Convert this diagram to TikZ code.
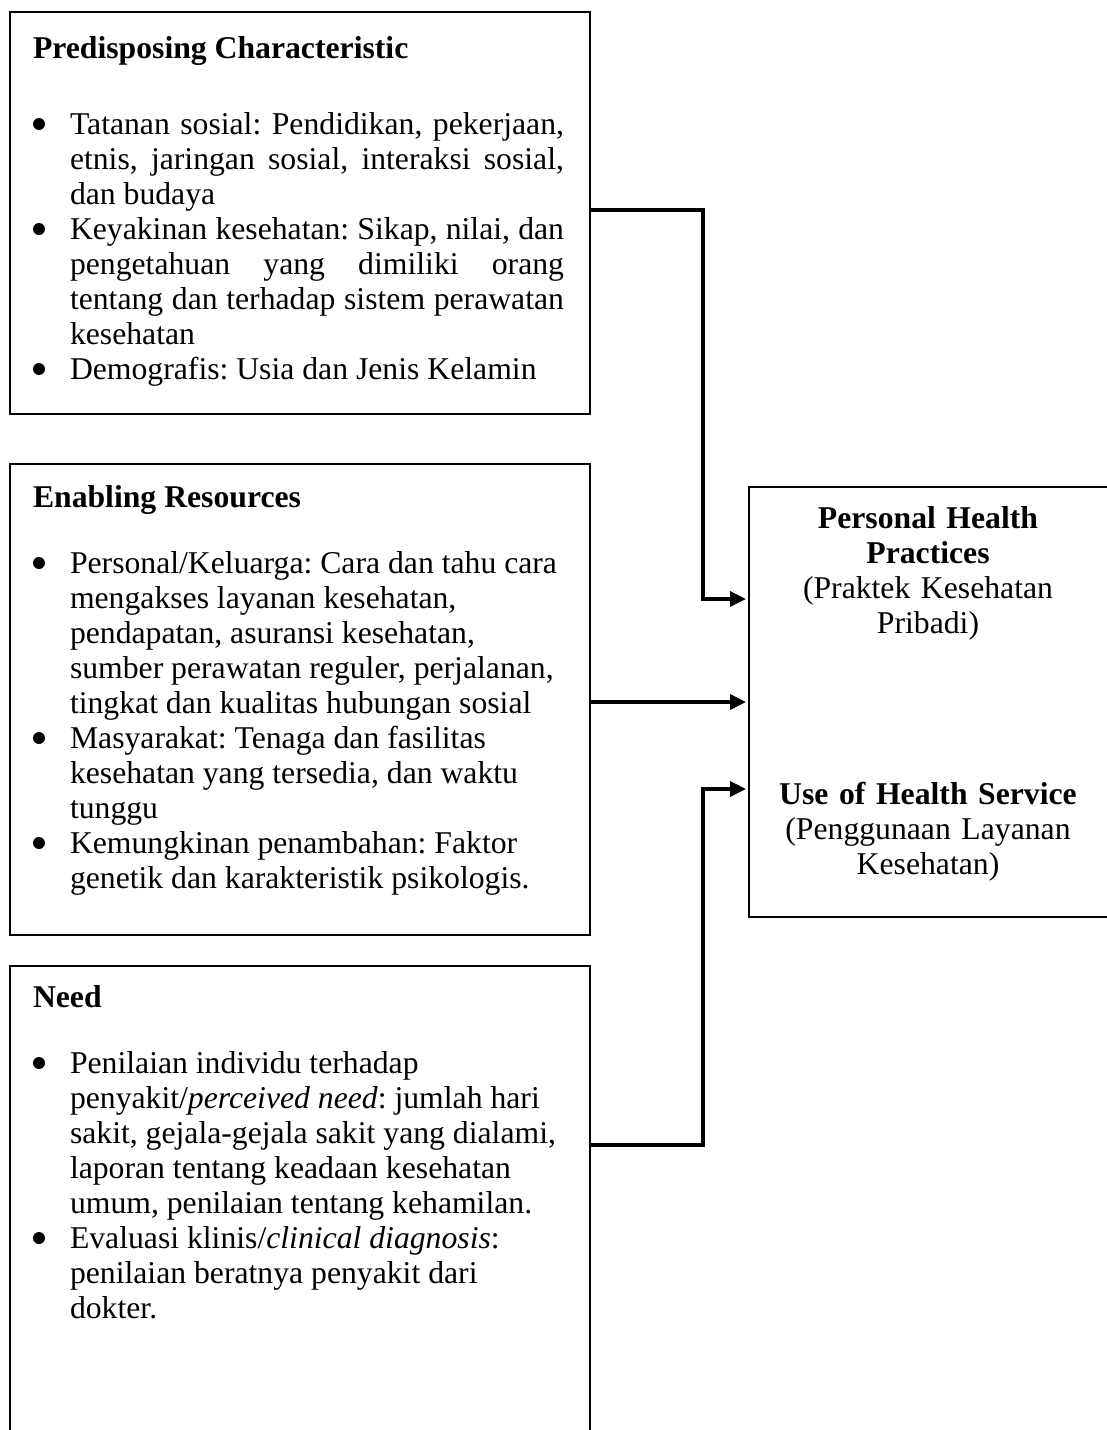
\documentclass[tikz,border=0pt]{standalone}
\usepackage{fontspec}
\setmainfont{Liberation Serif}
\usetikzlibrary{arrows.meta}
\newcommand\bulletmark{\makebox[37pt][l]{\tikz[baseline=0pt]\fill (6pt,10pt) circle[radius=6pt];}}
\newcommand\itm{\par\noindent\hangindent=37pt\hangafter=1\bulletmark}
\newcommand\prep{\frenchspacing\hyphenpenalty=10000\relax\exhyphenpenalty=10000\relax}
\newcommand\ragged{\rightskip=0pt plus 1fil\relax}
\tikzset{
  box/.style={draw, line width=2pt, inner sep=0pt, outer sep=0pt, anchor=north west},
  conn/.style={line width=3.5pt, line join=miter, -{Triangle[length=16pt,width=15pt]}, shorten >=3pt},
  txt/.style={inner sep=0pt, outer sep=0pt, anchor=base west, text width=531pt, align=justify,
    font=\fontsize{31.7}{35}\selectfont},
  ctxt/.style={inner sep=0pt, outer sep=0pt, anchor=base, text width=340pt, align=center,
    font=\fontsize{31.7}{35}\selectfont},
}
\begin{document}
\begin{tikzpicture}[x=1pt, y=-1pt]
\clip (0,0) rectangle (1107,1430);
\fill[white] (0,0) rectangle (1107,1430);
% boxes
\node[box, minimum width=580pt, minimum height=402pt] (b1) at (10,12) {};
\node[box, minimum width=580pt, minimum height=471pt] (b2) at (10,464) {};
\node[box, minimum width=580pt, minimum height=520pt] (b3) at (10,966) {};
\node[box, minimum width=360pt, minimum height=430pt] (b4) at (749,487) {};
% texts
\node[txt] (t1) at (33,58) {\prep\noindent\textbf{Predisposing Characteristic}\par\vspace{41pt}
\itm Tatanan sosial: Pendidikan, pekerjaan,\linebreak etnis, jaringan sosial, interaksi sosial,\linebreak dan budaya
\itm Keyakinan kesehatan: Sikap, nilai, dan\linebreak pengetahuan yang dimiliki orang\linebreak tentang dan terhadap sistem perawatan\linebreak kesehatan
\itm Demografis: Usia dan Jenis Kelamin\par};
\node[txt, text width=545pt] (t2) at (33,507) {\prep\ragged\noindent\textbf{Enabling Resources}\par\vspace{31pt}
\itm Personal/Keluarga: Cara dan tahu cara\linebreak mengakses layanan kesehatan,\linebreak pendapatan, asuransi kesehatan,\linebreak sumber perawatan reguler, perjalanan,\linebreak tingkat dan kualitas hubungan sosial
\itm Masyarakat: Tenaga dan fasilitas\linebreak kesehatan yang tersedia, dan waktu\linebreak tunggu
\itm Kemungkinan penambahan: Faktor\linebreak genetik dan karakteristik psikologis.\par};
\node[txt, text width=545pt] (t3) at (33,1007) {\prep\ragged\noindent\textbf{Need}\par\vspace{31pt}
\itm Penilaian individu terhadap\linebreak penyakit/\textit{perceived need}: jumlah hari\linebreak sakit, gejala-gejala sakit yang dialami,\linebreak laporan tentang keadaan kesehatan\linebreak umum, penilaian tentang kehamilan.
\itm Evaluasi klinis/\textit{clinical diagnosis}:\linebreak penilaian beratnya penyakit dari\linebreak dokter.\par};
\node[ctxt] (t4) at (928,528) {\frenchspacing\textbf{Personal Health}\\\textbf{Practices}\\(Praktek Kesehatan\\Pribadi)};
\node[ctxt] (t5) at (928,804) {\frenchspacing\textbf{Use of Health Service}\\(Penggunaan Layanan\\Kesehatan)};
% connectors
\coordinate (j1) at (703,210);
\coordinate (a1) at (703,599);
\coordinate (a2) at (703,702);
\coordinate (j3) at (703,1145);
\coordinate (a3) at (703,789);
\draw[conn] (b1.east |- j1) -- (j1) -- (a1) -- (b4.west |- a1);
\draw[conn] (b2.east |- a2) -- (b4.west |- a2);
\draw[conn] (b3.east |- j3) -- (j3) -- (a3) -- (b4.west |- a3);
\end{tikzpicture}
\end{document}
